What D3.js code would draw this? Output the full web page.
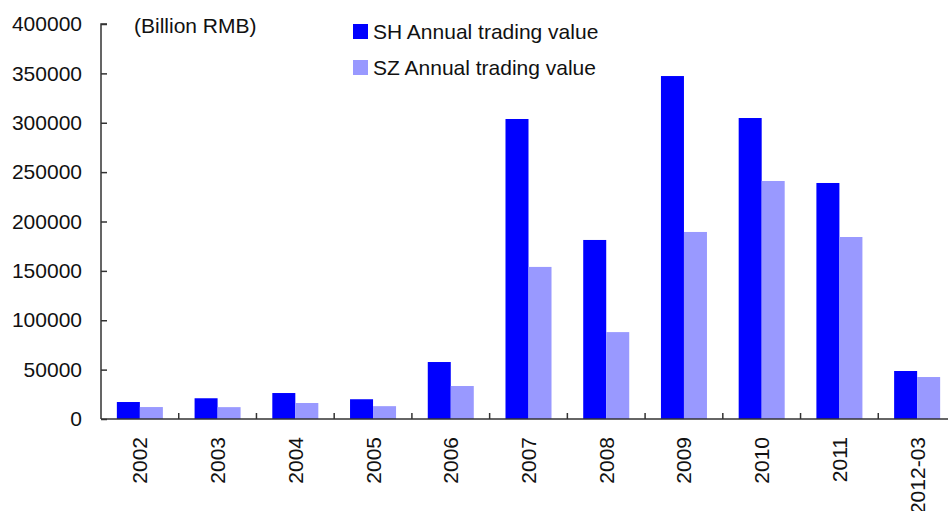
<!DOCTYPE html>
<html><head><meta charset="utf-8">
<script src="https://cdn.jsdelivr.net/npm/d3@7"></script>
<style>
body{margin:0;background:#fff;}
text{font-family:"Liberation Sans",Arial,sans-serif;fill:#111;}
</style></head>
<body><svg id="c" width="948" height="511"></svg>
<script>
const categories = ["2002","2003","2004","2005","2006","2007","2008","2009","2010","2011","2012-03"];
const shValues = [17200,21000,26300,20000,57700,303800,181300,347300,304800,239000,48600];
const szValues = [12100,12000,16200,13000,33400,154000,88000,189400,241000,184300,42500];
const seriesNames = ["SH Annual trading value","SZ Annual trading value"];
const seriesColors = ["#0000ff","#9999ff"];
const yTicks = [0,50000,100000,150000,200000,250000,300000,350000,400000];
const unitLabel = "(Billion RMB)";

(function(){
const svg = d3.select("#c");
const mLeft = 101, mRight = 956, mTop = 24, mBottom = 419;
const x = d3.scaleBand().domain(categories).range([mLeft, mRight]).padding(0);
const y = d3.scaleLinear().domain([0,400000]).range([mBottom, mTop]);
const barW = x.bandwidth()*0.296;

const series = [shValues, szValues];
series.forEach((vals, si) => {
  svg.append("g").selectAll("rect").data(categories).join("rect")
    .attr("x", (d) => x(d) + x.bandwidth()/2 - barW + si*barW)
    .attr("y", (d,i) => y(vals[i]))
    .attr("width", barW)
    .attr("height", (d,i) => y(0) - y(vals[i]))
    .attr("fill", seriesColors[si]);
});

// y axis
const ya = svg.append("g").attr("transform", `translate(${mLeft},0)`)
  .call(d3.axisLeft(y).tickValues(yTicks).tickSize(-6).tickPadding(19).tickFormat(d3.format("d")));
ya.select(".domain").attr("stroke","#333").attr("stroke-width",1.5).attr("d",`M6,${mTop}H0V${mBottom}`);
ya.selectAll(".tick line").attr("stroke","#333").attr("stroke-width",1.5);
ya.selectAll(".tick text").attr("font-size",21).attr("fill","#111").attr("font-family","Liberation Sans, Arial, sans-serif");

// x axis
const xa = svg.append("g").attr("transform", `translate(0,${mBottom})`);
xa.append("line").attr("x1",mLeft).attr("x2",mRight).attr("y1",0).attr("y2",0).attr("stroke","#333").attr("stroke-width",1.5);
xa.selectAll("line.tk").data(categories).join("line").attr("class","tk")
  .attr("x1",(d,i)=> mLeft + (i+1)*x.step()).attr("x2",(d,i)=> mLeft + (i+1)*x.step())
  .attr("y1",0).attr("y2",-6).attr("stroke","#333").attr("stroke-width",1.5);
xa.selectAll("text").data(categories).join("text")
  .attr("transform", d => `translate(${x(d)+x.bandwidth()/2+7.5},18) rotate(-90)`)
  .attr("text-anchor","end").attr("font-size",21).text(d=>d);

// unit label
svg.append("text").attr("x",134).attr("y",33).attr("font-size",21).text(unitLabel);

// legend
seriesNames.forEach((n,i)=>{
  const ly = 24 + i*36;
  svg.append("rect").attr("x",353).attr("y",ly).attr("width",15).attr("height",15).attr("fill",seriesColors[i]);
  svg.append("text").attr("x",373).attr("y",ly+15).attr("font-size",21).text(n);
});
})();
</script></body></html>
